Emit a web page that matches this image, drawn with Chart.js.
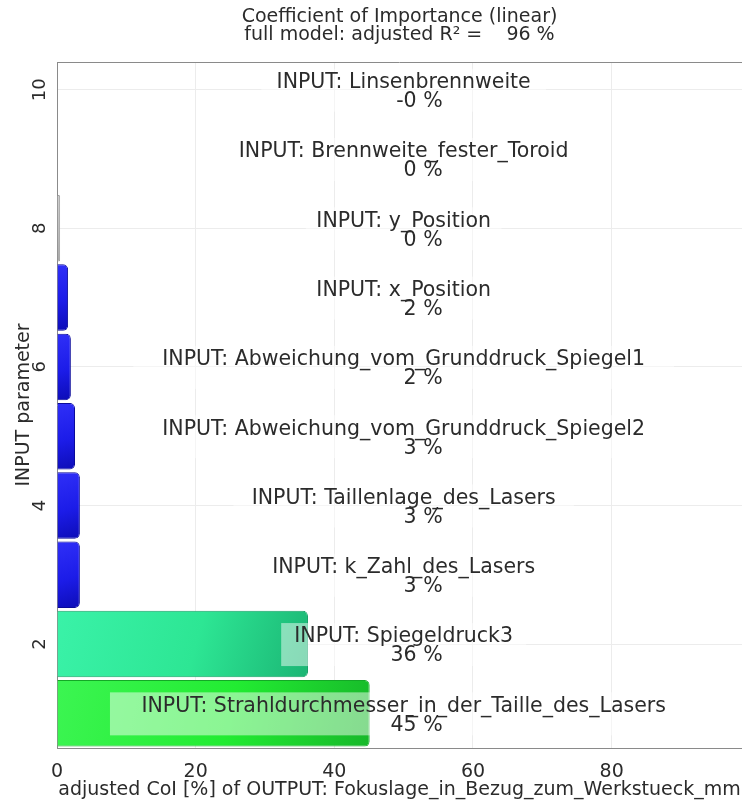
<!DOCTYPE html>
<html>
<head>
<meta charset="utf-8">
<script src="https://cdn.jsdelivr.net/npm/chart.js@4.4.1/dist/chart.umd.min.js"></script>
<style>
    html, body { margin: 0; padding: 0; background: #ffffff; }
    #wrap { width: 742px; height: 801px; }
</style>
</head>
<body>
<div id="wrap"><canvas id="coiChart"></canvas></div>
<script>
const parameterNames = [
    "Strahldurchmesser_in_der_Taille_des_Lasers",
    "Spiegeldruck3",
    "k_Zahl_des_Lasers",
    "Taillenlage_des_Lasers",
    "Abweichung_vom_Grunddruck_Spiegel2",
    "Abweichung_vom_Grunddruck_Spiegel1",
    "x_Position",
    "y_Position",
    "Brennweite_fester_Toroid",
    "Linsenbrennweite"
];
const parameterPositions = [1, 2, 3, 4, 5, 6, 7, 8, 9, 10];
const coiValues = [45.1, 36.2, 3.3, 3.3, 2.6, 2.0, 1.6, 0.45, 0.1, -0.1];
const coiText = ["45", "36", "3", "3", "3", "2", "2", "0", "0", "-0"];
const xTicks = [0, 20, 40, 60, 80];
const yTicks = [2, 4, 6, 8, 10];

const chartTitle = ["Coefficient of Importance (linear)", "full model: adjusted R\u00b2 =    96 %"];
const xTitle = "adjusted CoI [%] of OUTPUT: Fokuslage_in_Bezug_zum_Werkstueck_mm";
const yTitle = "INPUT parameter";

const green = { light: "#3cf552", main: "#22ec32", dark: "#17b82a", line: "#14a826" };
const teal = { light: "#3af2a8", main: "#2de694", dark: "#1bb574", line: "#16a066" };
const blue = { light: "#3030f8", main: "#1c1ce8", dark: "#0c0cb4", line: "#0a0a9a" };
const grey = { light: "#d0d0d0", main: "#bdbdbd", dark: "#a8a8a8", line: "#a0a0a0" };
const barColours = [green, teal, blue, blue, blue, blue, blue, grey, grey, grey];

const textColour = "#2b2b2b";
const fontFamily = "'DejaVu Sans', Verdana, sans-serif";

function barFill(context) {
    const chart = context.chart;
    const colours = barColours[context.dataIndex] || blue;
    const xScale = chart.scales.x;
    const yScale = chart.scales.y;

    if (!xScale || !yScale || context.dataIndex === undefined) {
        return colours.main;
    }

    const centre = yScale.getPixelForValue(parameterPositions[context.dataIndex]);
    const half = Math.abs(yScale.getPixelForValue(1) - yScale.getPixelForValue(0)) / 2;
    const left = xScale.getPixelForValue(0);
    const right = Math.max(xScale.getPixelForValue(coiValues[context.dataIndex]), left + 4);

    if (![centre, half, left, right].every(Number.isFinite)) {
        return colours.main;
    }

    const gradient = chart.ctx.createLinearGradient(left, centre - half, right, centre + half);

    gradient.addColorStop(0, colours.light);
    gradient.addColorStop(0.55, colours.main);
    gradient.addColorStop(1, colours.dark);

    return gradient;
}

const labelPlugin = {
    id: "parameterLabels",
    afterDatasetsDraw(chart) {
        const ctx = chart.ctx;
        const xScale = chart.scales.x;
        const yScale = chart.scales.y;
        const area = chart.chartArea;
        const centreX = xScale.getPixelForValue(50);

        ctx.save();
        ctx.beginPath();
        ctx.rect(area.left, area.top, area.right - area.left, area.bottom - area.top);
        ctx.clip();
        ctx.font = "20.5px " + fontFamily;

        parameterNames.forEach((name, index) => {
            const centreY = yScale.getPixelForValue(parameterPositions[index]);
            const line = "INPUT: " + name;
            const width = ctx.measureText(line).width * 1.12;

            ctx.fillStyle = "rgba(255, 255, 255, 0.48)";
            ctx.fillRect(centreX - width / 2, centreY - 21, width, 43);

            ctx.fillStyle = textColour;
            ctx.textBaseline = "middle";
            ctx.textAlign = "center";
            ctx.fillText(line, centreX, centreY - 7);
            ctx.textAlign = "right";
            ctx.fillText(coiText[index] + " %", centreX + 39, centreY + 12);
        });

        ctx.restore();

        // top frame line
        ctx.save();
        ctx.strokeStyle = "#8a8a8a";
        ctx.lineWidth = 1;
        ctx.beginPath();
        ctx.moveTo(area.left, area.top + 0.5);
        ctx.lineTo(area.right, area.top + 0.5);
        ctx.stroke();
        ctx.restore();
    }
};

new Chart(document.getElementById("coiChart"), {
    type: "bar",
    data: {
        datasets: [{
            label: "CoI",
            data: coiValues.map((value, index) => ({ x: value, y: parameterPositions[index] })),
            backgroundColor: barFill,
            borderColor: parameterNames.map((name, index) => barColours[index].line),
            borderWidth: 1,
            borderRadius: 5,
            barPercentage: 0.96,
            categoryPercentage: 1
        }]
    },
    options: {
        indexAxis: "y",
        responsive: true,
        maintainAspectRatio: false,
        animation: false,
        layout: {
            padding: { top: 0, right: 0, bottom: 4, left: 14.5 }
        },
        plugins: {
            legend: { display: false },
            tooltip: { enabled: false },
            title: {
                display: true,
                fullSize: false,
                text: chartTitle,
                color: textColour,
                font: { family: fontFamily, size: 19, weight: "normal", lineHeight: "18px" },
                padding: { top: 8, bottom: 18 }
            }
        },
        scales: {
            x: {
                type: "linear",
                min: 0,
                max: 98.8,
                afterBuildTicks: (scale) => {
                    scale.ticks = xTicks.map((value) => ({ value }));
                },
                afterFit: (scale) => {
                    scale.height = 49;
                },
                ticks: {
                    color: textColour,
                    font: { family: fontFamily, size: 19, lineHeight: 1 },
                    padding: 15,
                    maxRotation: 0
                },
                grid: {
                    color: "#ececec",
                    drawTicks: false
                },
                border: { color: "#8a8a8a", width: 1 },
                title: {
                    display: true,
                    text: xTitle,
                    color: textColour,
                    font: { family: fontFamily, size: 19, lineHeight: "18px" },
                    padding: { top: -2, bottom: -2 }
                }
            },
            y: {
                type: "linear",
                min: 0.5,
                max: 10.4,
                offset: false,
                afterBuildTicks: (scale) => {
                    scale.ticks = yTicks.map((value) => ({ value }));
                },
                afterFit: (scale) => {
                    scale.width = 42.5;
                    scale.paddingTop = 0;
                    scale.paddingBottom = 0;
                },
                ticks: {
                    color: textColour,
                    font: { family: fontFamily, size: 18, lineHeight: 1 },
                    minRotation: 90,
                    maxRotation: 90,
                    crossAlign: "center",
                    padding: 5
                },
                grid: {
                    color: "#ececec",
                    offset: false,
                    drawTicks: false
                },
                border: { color: "#8a8a8a", width: 1 },
                title: {
                    display: true,
                    text: yTitle,
                    color: textColour,
                    font: { family: fontFamily, size: 19, lineHeight: 1 },
                    padding: { top: 0, bottom: 0 }
                }
            }
        }
    },
    plugins: [labelPlugin]
});
</script>
</body>
</html>
